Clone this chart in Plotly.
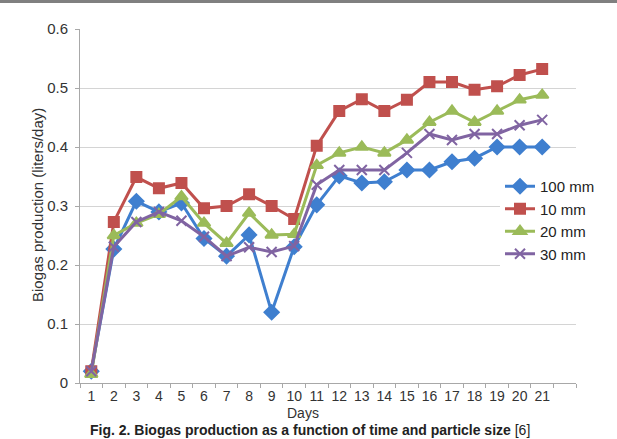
import plotly.graph_objects as go

days = list(range(1, 22))
s100 = [0.02, 0.227, 0.308, 0.29, 0.305, 0.245, 0.215, 0.251, 0.12, 0.231, 0.302, 0.351, 0.339, 0.341, 0.361, 0.361, 0.375, 0.381, 0.40, 0.40, 0.40]
s10 = [0.02, 0.273, 0.349, 0.33, 0.339, 0.296, 0.30, 0.32, 0.30, 0.278, 0.402, 0.461, 0.481, 0.461, 0.48, 0.51, 0.51, 0.497, 0.503, 0.522, 0.532]
s20 = [0.015, 0.25, 0.271, 0.286, 0.316, 0.271, 0.237, 0.288, 0.251, 0.252, 0.369, 0.39, 0.40, 0.39, 0.412, 0.442, 0.461, 0.442, 0.461, 0.48, 0.488]
s30 = [0.02, 0.231, 0.273, 0.29, 0.275, 0.248, 0.215, 0.23, 0.222, 0.232, 0.336, 0.361, 0.361, 0.361, 0.39, 0.422, 0.412, 0.422, 0.422, 0.437, 0.446]

series = [
    ("100 mm", s100, "#3f7fcf", "diamond", 11),
    ("10 mm", s10, "#c0504d", "square", 10),
    ("20 mm", s20, "#9bbb59", "triangle-up", 11),
    ("30 mm", s30, "#8064a2", "x-thin-open", 10),
]

fig = go.Figure()
for name, vals, col, sym, sz in series:
    fig.add_trace(go.Scatter(
        x=days, y=vals, name=name, mode="lines+markers",
        line=dict(color=col, width=3),
        marker=dict(symbol=sym, size=sz, color=col, line=dict(color=col, width=2)),
    ))

L, R, T, B = 80, 576, 29, 383
W, H = 617, 439
pw, ph = R - L, B - T
txt = "#333333"
font = dict(family="Liberation Sans, Arial, sans-serif", size=15, color=txt)

def px(xp):
    return (xp - L) / pw

def py(yp):
    return (B - yp) / ph

fig.update_layout(
    width=W, height=H,
    margin=dict(l=L, r=W - R, t=T, b=H - B),
    paper_bgcolor="white", plot_bgcolor="white",
    font=font,
    showlegend=True,
    legend=dict(x=px(500), y=py(170), xanchor="left", yanchor="top",
                font=dict(size=15, color="#222222"), tracegroupgap=0,
                itemwidth=30, bgcolor="white"),
    xaxis=dict(
        range=[0.5, 22.5], tickmode="array", tickvals=days,
        ticktext=[str(d) for d in days], ticks="", showgrid=False,
        showline=True, linecolor="#a8a8a8", linewidth=1,
        tickfont=dict(size=14, color=txt),
        minor=dict(ticks="outside", tick0=0.5, dtick=1, ticklen=4,
                   tickcolor="#a8a8a8", showgrid=False),
        zeroline=False,
    ),
    yaxis=dict(
        range=[0, 0.6], dtick=0.1, tickformat="~g",
        showgrid=True, gridcolor="#d4d4d4", gridwidth=1,
        showline=True, linecolor="#a8a8a8", linewidth=1,
        ticks="outside", ticklen=4, tickcolor="#a8a8a8",
        ticklabelstandoff=4,
        tickfont=dict(size=15, color=txt),
        zeroline=False,
    ),
    shapes=[dict(type="rect", xref="paper", yref="paper", x0=-0.3, x1=1.3,
                 y0=py(3), y1=py(-5), fillcolor="#808080", line=dict(width=0))],
    annotations=[
        dict(text="Days", xref="paper", yref="paper", x=px(303), y=py(413),
             xanchor="center", yanchor="middle", showarrow=False, borderpad=0,
             font=dict(size=14, color=txt)),
        dict(text="Biogas production (liters/day)", xref="paper", yref="paper",
             x=px(37), y=py(205), xanchor="center", yanchor="middle",
             textangle=-90, showarrow=False, font=dict(size=15, color=txt)),
        dict(text="<b>Fig. 2. Biogas production as a function of time and particle size</b> [6]",
             xref="paper", yref="paper", x=px(310), y=py(439),
             xanchor="center", yanchor="bottom", showarrow=False, borderpad=0,
             font=dict(size=14, color="#222222")),
    ],
)

fig.write_html("out.html")
